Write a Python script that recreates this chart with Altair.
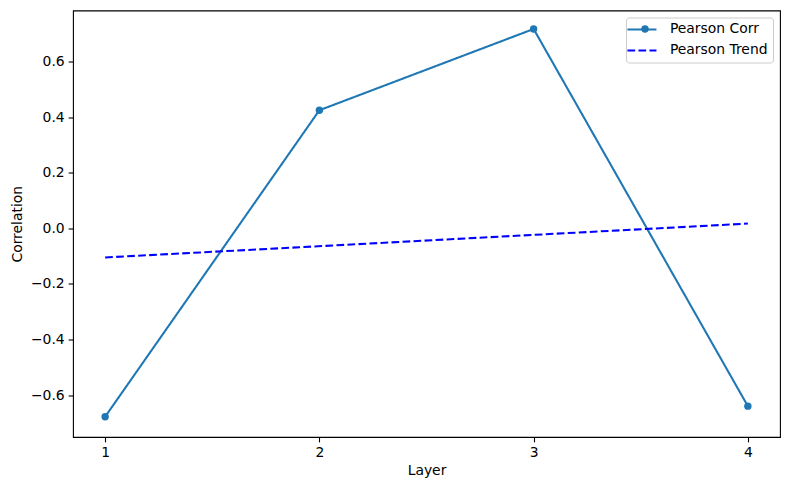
import altair as alt
import pandas as pd

layers = [1, 2, 3, 4]
corr = [-0.678, 0.425, 0.7175, -0.640]
series_names = ["Pearson Corr", "Pearson Trend"]
series_colors = ["#1f77b4", "#0000ff"]
series_dash = [[1, 0], [7.7, 3.33]]
y_ticks = [-0.6, -0.4, -0.2, 0.0, 0.2, 0.4, 0.6]
x_ticks = [1, 2, 3, 4]

df = pd.DataFrame({"Layer": layers, "Correlation": corr, "series": "Pearson Corr"})

FONT = "DejaVu Sans"
FS = 13.9
LW = 2.08

x_scale = alt.Scale(domain=[0.85, 4.15], nice=False, zero=False)
y_scale = alt.Scale(domain=[-0.751, 0.784], nice=False, zero=False)

x_axis = alt.Axis(values=x_ticks, format="d", title="Layer", grid=False, domain=False,
                  tickColor="black", tickSize=4.86, tickWidth=1.1, labelPadding=4,
                  labelFont=FONT, labelFontSize=FS, labelColor="black",
                  titleFont=FONT, titleFontSize=FS, titleFontWeight="normal",
                  titleColor="black", titlePadding=4)
y_axis = alt.Axis(values=y_ticks, format=".1f", title="Correlation", grid=False, domain=False,
                  tickColor="black", tickSize=4.86, tickWidth=1.1, labelPadding=4,
                  labelFont=FONT, labelFontSize=FS, labelColor="black",
                  titleFont=FONT, titleFontSize=FS, titleFontWeight="normal",
                  titleColor="black", titlePadding=6)

legend = alt.Legend(title=None, orient="none", legendX=553, legendY=7,
                    symbolType="M-2.9,0L2.9,0", symbolSize=100, symbolStrokeWidth=LW,
                    symbolOffset=4,
                    labelFont=FONT, labelFontSize=FS, labelColor="black",
                    labelOffset=21, padding=5, rowPadding=6,
                    strokeColor="#cccccc", cornerRadius=3)

color = alt.Color("series:N", scale=alt.Scale(domain=series_names, range=series_colors),
                  legend=legend)
dash = alt.StrokeDash("series:N", scale=alt.Scale(domain=series_names, range=series_dash),
                      legend=legend)

base = alt.Chart(df)

line = base.mark_line(strokeWidth=LW).encode(
    x=alt.X("Layer:Q", scale=x_scale, axis=x_axis),
    y=alt.Y("Correlation:Q", scale=y_scale, axis=y_axis),
    color=color,
    strokeDash=dash,
)
points = base.mark_circle(size=55, opacity=1, color="#1f77b4").encode(
    x=alt.X("Layer:Q", scale=x_scale),
    y=alt.Y("Correlation:Q", scale=y_scale),
)
trend = base.transform_regression("Layer", "Correlation", extent=[1, 4]).transform_calculate(
    series="'Pearson Trend'"
).mark_line(strokeWidth=LW).encode(
    x=alt.X("Layer:Q", scale=x_scale),
    y=alt.Y("Correlation:Q", scale=y_scale),
    color=color,
    strokeDash=dash,
)
legend_marker = alt.Chart(pd.DataFrame({"k": [0]})).mark_circle(
    size=55, opacity=1, color="#1f77b4"
).encode(x=alt.value(572), y=alt.value(18.5))

chart = alt.layer(line, trend, points, legend_marker).properties(
    width=707, height=426.5,
    autosize=alt.AutoSizeParams(type="none"),
    padding={"left": 65, "top": 2.5, "right": 2, "bottom": 44},
).configure_view(stroke="black", strokeWidth=1.1)

chart.save("out.html", embed_options={"renderer": "svg", "actions": False})
